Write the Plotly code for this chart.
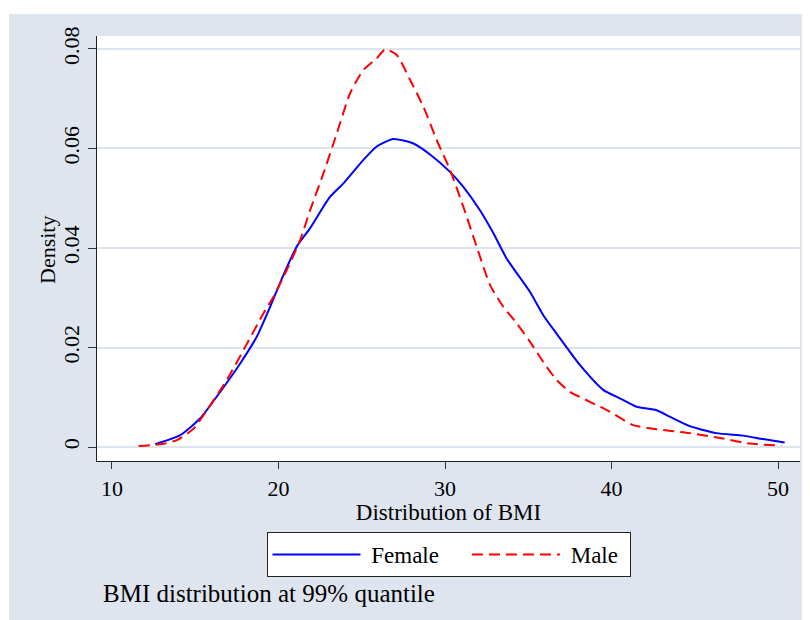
import plotly.graph_objects as go

# ---- data ----
female_bmi = [12.6, 14.1, 15.3, 16.5, 17.7, 18.7, 19.5, 20.3, 21.1, 21.9, 23.1, 23.9,
              25.1, 25.9, 26.9, 28.1, 29.1, 30.3, 31.1, 32.1, 32.9, 33.7, 35.1, 35.9,
              36.7, 38.1, 39.5, 40.5, 41.5, 42.7, 43.5, 44.7, 46.3, 47.9, 49.1, 50.4]
female_density = [0.0006, 0.0024, 0.0058, 0.0111, 0.0168, 0.0222, 0.0282, 0.0346, 0.0403,
                  0.0440, 0.0503, 0.0530, 0.0577, 0.0604, 0.0619, 0.0610, 0.0588, 0.0553,
                  0.0523, 0.0476, 0.0430, 0.0379, 0.0312, 0.0265, 0.0228, 0.0165, 0.0115,
                  0.0098, 0.0081, 0.0074, 0.0061, 0.0042, 0.0028, 0.0023, 0.0016, 0.0009]

male_bmi = [11.6, 13.0, 13.9, 14.9, 15.9, 16.9, 17.9, 19.1, 19.7, 20.5, 21.3, 21.9, 22.7,
            23.5, 24.3, 25.1, 25.9, 26.4, 27.1, 27.9, 28.7, 29.5, 30.3, 31.1, 31.9, 32.7,
            33.5, 34.3, 35.1, 35.9, 36.7, 37.5, 38.7, 39.9, 41.3, 42.7, 44.7, 46.7, 48.3, 50.2]
male_density = [0.0002, 0.0006, 0.0014, 0.0037, 0.0084, 0.0135, 0.0195, 0.0269, 0.0302,
                0.0356, 0.0416, 0.0476, 0.0550, 0.0630, 0.0711, 0.0758, 0.0781, 0.0799,
                0.0788, 0.0738, 0.0684, 0.0617, 0.0557, 0.0483, 0.0403, 0.0326, 0.0282,
                0.0249, 0.0212, 0.0171, 0.0135, 0.0111, 0.0091, 0.0071, 0.0044, 0.0036,
                0.0028, 0.0017, 0.0007, 0.0003]

x_ticks = [10, 20, 30, 40, 50]
y_ticks = [0, 0.02, 0.04, 0.06, 0.08]
y_tick_labels = ["0", "0.02", "0.04", "0.06", "0.08"]

BG = "#DEE5EF"
FONT = "Liberation Serif"
NB = "\u00a0"

fig = go.Figure()
fig.add_trace(go.Scatter(x=female_bmi, y=female_density, mode="lines",
                         name=NB + "Female" + NB * 4,
                         line=dict(color="#0000FF", width=2, shape="spline", smoothing=0.6)))
fig.add_trace(go.Scatter(x=male_bmi, y=male_density, mode="lines",
                         name=NB + "Male" + NB,
                         line=dict(color="#FF0000", width=2, dash="11px,6px",
                                   shape="spline", smoothing=0.6)))

fig.update_layout(
    width=802, height=612,
    margin=dict(l=89, r=10, t=28, b=159),
    paper_bgcolor=BG, plot_bgcolor="white",
    font=dict(family=FONT, size=22, color="black"),
    showlegend=True,
    legend=dict(orientation="h", x=0.5, xanchor="center", y=-0.167, yanchor="top",
                bgcolor="white", bordercolor="#222222", borderwidth=1,
                font=dict(family=FONT, size=23), itemwidth=88, traceorder="normal"),
    shapes=[
        dict(type="rect", xref="paper", yref="paper", x0=-0.2, x1=1.1, y0=1.0518, y1=1.2,
             fillcolor="white", line=dict(width=0), layer="below"),
        dict(type="rect", xref="paper", yref="paper", x0=-0.2, x1=-0.1252, y0=-0.5, y1=1.2,
             fillcolor="white", line=dict(width=0), layer="below"),
    ],
    annotations=[
        dict(text="BMI distribution at 99% quantile", xref="paper", yref="paper",
             x=0.0057, y=-0.3106, xanchor="left", yanchor="middle", showarrow=False,
             font=dict(family=FONT, size=25, color="black")),
        dict(text="Density", xref="paper", yref="paper", textangle=-90,
             x=-0.0697, y=0.4965, xanchor="center", yanchor="middle", showarrow=False,
             font=dict(family=FONT, size=22, color="black")),
    ],
)

fig.update_xaxes(
    range=[9.1, 51.32], tickvals=x_ticks, showgrid=False, zeroline=False,
    showline=True, linecolor="#222222", linewidth=1.2,
    ticks="outside", ticklen=7, tickcolor="#333333", tickwidth=1.2,
    tickfont=dict(family=FONT, size=22),
    title=dict(text="Distribution of BMI", font=dict(family=FONT, size=23), standoff=0),
)
fig.update_yaxes(
    range=[-0.0028, 0.0826], tickvals=y_ticks, ticktext=y_tick_labels, tickangle=-90,
    showgrid=True, gridcolor="#DDE4EE", gridwidth=1.5, zeroline=False,
    showline=True, linecolor="#222222", linewidth=1.2,
    ticks="outside", ticklen=8, tickcolor="#333333", tickwidth=1.2,
    tickfont=dict(family=FONT, size=22),
)

fig.write_html("out.html")
